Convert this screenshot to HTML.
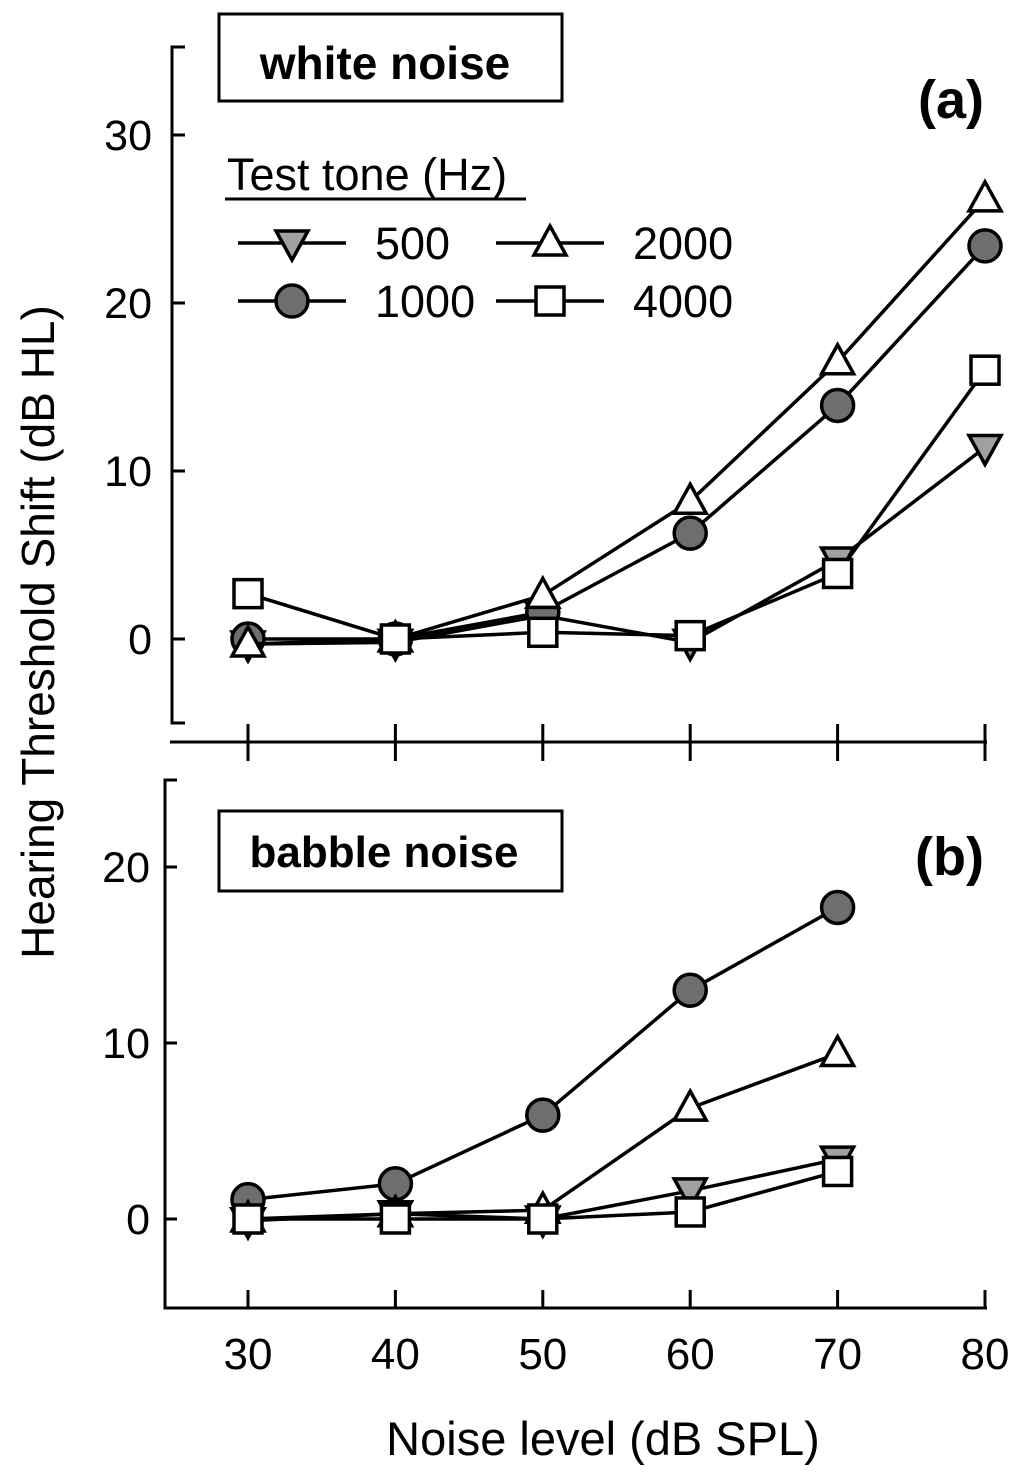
<!DOCTYPE html>
<html><head><meta charset="utf-8"><style>
body{margin:0;background:#fff}
svg{display:block;font-family:"Liberation Sans",Arial,sans-serif}
</style></head><body>
<svg id="c" width="1024" height="1480" viewBox="0 0 1024 1480">
<g id="g"></g>
</svg>
<script>
const xLevels=[30,40,50,60,70,80];
const a500=[-0.3,-0.2,1.4,-0.2,4.7,11.4];
const a1000=[0,0,1.6,6.3,13.9,23.4];
const a2000=[-0.3,0,2.6,8.2,16.5,26.2];
const a4000=[2.7,0,0.4,0.2,3.9,16];
const bLevels=[30,40,50,60,70];
const b500=[-0.1,0.3,0,1.6,3.4];
const b1000=[1.1,2.0,5.9,13,17.7];
const b2000=[0,0.3,0.5,6.3,9.4];
const b4000=[0,0,0,0.4,2.7];
const aTicks=[0,10,20,30];
const bTicks=[0,10,20];
const NS="http://www.w3.org/2000/svg";
const G=document.getElementById('g');
function el(t,at,txt){const e=document.createElementNS(NS,t);for(const k in at)e.setAttribute(k,at[k]);if(txt!==undefined)e.textContent=txt;G.appendChild(e);return e;}
const X=v=>248+(v-30)*14.74;
const Ya=v=>639-v*16.8;
const Yb=v=>1219-v*17.6;
function marker(type,x,y,name){
  let e;
  if(type==='circle')e=el('circle',{cx:x,cy:y,r:16,fill:'#6e6e6e',stroke:'#000','stroke-width':3.5});
  else if(type==='square')e=el('rect',{x:x-14,y:y-14,width:28,height:28,fill:'#fff',stroke:'#000','stroke-width':3.5});
  else if(type==='up')e=el('polygon',{points:`${x-16},${y+12} ${x+16},${y+12} ${x},${y-17}`,fill:'#fff',stroke:'#000','stroke-width':3.5});
  else e=el('polygon',{points:`${x-16},${y-12} ${x+16},${y-12} ${x},${y+17}`,fill:'#a0a0a0',stroke:'#000','stroke-width':3.5});
  
  
}
function series(xs,vals,Y,type,name){
  const pts=xs.map((x,i)=>X(x)+','+Y(vals[i])).join(' ');
  const l=el('polyline',{points:pts,fill:'none',stroke:'#000','stroke-width':3.5});
  
  
  xs.forEach((x,i)=>marker(type,X(x),Y(vals[i]),name+'-point'));
}
// panel a axes
el('polyline',{points:`185,47 172,47 172,723 185,723`,fill:'none',stroke:'#000','stroke-width':3,});
aTicks.forEach(t=>{el('line',{x1:172,x2:185,y1:Ya(t),y2:Ya(t),stroke:'#000','stroke-width':3});
  const tl=el('text',{x:152,y:Ya(t)+15,'text-anchor':'end','font-size':43},t);
  });
el('line',{x1:170,x2:987,y1:742,y2:742,stroke:'#000','stroke-width':3,});
xLevels.forEach(v=>el('line',{x1:X(v),x2:X(v),y1:724,y2:761,stroke:'#000','stroke-width':3}));
// panel b axes
el('polyline',{points:`177,780 165,780 165,1308 987,1308`,fill:'none',stroke:'#000','stroke-width':3,});
bTicks.forEach(t=>{el('line',{x1:165,x2:177,y1:Yb(t),y2:Yb(t),stroke:'#000','stroke-width':3});
  const tl=el('text',{x:150,y:Yb(t)+15,'text-anchor':'end','font-size':43},t);
  });
xLevels.forEach(v=>{el('line',{x1:X(v),x2:X(v),y1:1290,y2:1308,stroke:'#000','stroke-width':3});
  const tl=el('text',{x:X(v),y:1369,'text-anchor':'middle','font-size':44},v);
  });
el('text',{x:603,y:1455,'text-anchor':'middle','font-size':47,},'Noise level (dB SPL)');
el('text',{x:0,y:0,transform:'translate(54,632) rotate(-90)','text-anchor':'middle','font-size':46,},'Hearing Threshold Shift (dB HL)');
// series a
series(xLevels,a500,Ya,'down','a-500');
series(xLevels,a1000,Ya,'circle','a-1000');
series(xLevels,a2000,Ya,'up','a-2000');
series(xLevels,a4000,Ya,'square','a-4000');
// series b
series(bLevels,b1000,Yb,'circle','b-1000');
series(bLevels,b2000,Yb,'up','b-2000');
series(bLevels,b500,Yb,'down','b-500');
series(bLevels,b4000,Yb,'square','b-4000');
// labels
el('rect',{x:219,y:14,width:343,height:87,fill:'#fff',stroke:'#000','stroke-width':3,});
el('text',{x:385,y:79,'text-anchor':'middle','font-size':46,'font-weight':'bold',},'white noise');
el('rect',{x:219,y:811,width:343,height:80,fill:'#fff',stroke:'#000','stroke-width':3,});
el('text',{x:384,y:867,'text-anchor':'middle','font-size':44,'font-weight':'bold',},'babble noise');
el('text',{x:984,y:118,'text-anchor':'end','font-size':54,'font-weight':'bold',},'(a)');
el('text',{x:984,y:875,'text-anchor':'end','font-size':54,'font-weight':'bold',},'(b)');
// legend
el('text',{x:227,y:190,'font-size':45,},'Test tone (Hz)');
el('line',{x1:225,x2:526,y1:199,y2:199,stroke:'#000','stroke-width':3});
const legend=[[238,243,'down','500'],[496,243,'up','2000'],[238,301,'circle','1000'],[496,301,'square','4000']];
legend.forEach(([x,y,t,lab])=>{
  el('line',{x1:x,x2:x+108,y1:y,y2:y,stroke:'#000','stroke-width':3.5});
  marker(t,x+54,y,'legend-marker-'+lab);
  const tx=el('text',{x:x+137,y:y+16,'font-size':45},lab);
  
});
</script>
</body></html>
